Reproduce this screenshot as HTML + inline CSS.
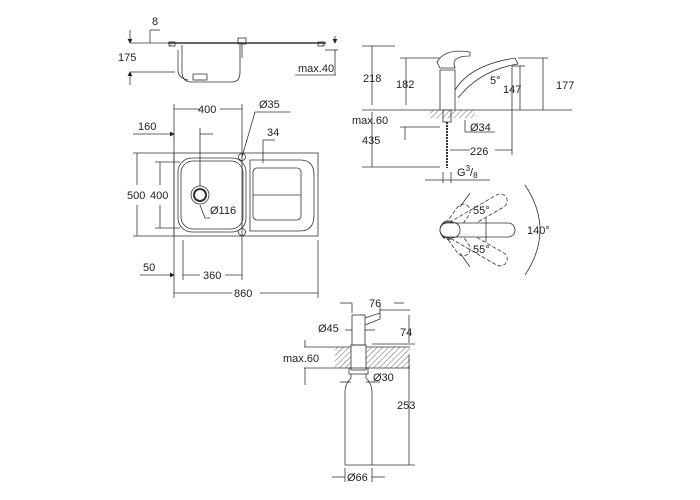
<!DOCTYPE html>
<html><head><meta charset="utf-8"><style>
html,body{margin:0;padding:0;background:#fff}
svg{display:block}
text{font-family:"Liberation Sans",sans-serif;font-size:11px;fill:#222}
</style></head><body>
<svg width="700" height="500" viewBox="0 0 700 500" xmlns="http://www.w3.org/2000/svg">
<defs>
<pattern id="h" width="4" height="4" patternUnits="userSpaceOnUse" patternTransform="rotate(45)">
<line x1="0" y1="0" x2="0" y2="4" stroke="#444" stroke-width="0.8"/></pattern>
<marker id="a" markerWidth="6" markerHeight="6" refX="5" refY="3" orient="auto"><path d="M0,0 L6,3 L0,6z" fill="#222"/></marker>
</defs>
<g stroke="#333" stroke-width="0.8" fill="none">
<!-- side view -->
<line x1="168" y1="43" x2="326" y2="43" stroke-width="1.5"/>
<rect x="169" y="42" width="6" height="4" fill="url(#h)"/>
<rect x="318" y="42" width="6" height="4" fill="url(#h)"/>
<path d="M182,45 L182,72 Q182,82 192,82 L232,82 Q240,82 240,72 L240,45"/>
<path d="M178,50 L178,70 Q178,78 188,80"/>
<rect x="193" y="74" width="14" height="6"/>
<rect x="238" y="38" width="8" height="6"/>
<line x1="242" y1="44" x2="242" y2="58"/>
<line x1="130" y1="43" x2="168" y2="43"/>
<line x1="130" y1="72" x2="175" y2="72"/>
<line x1="130" y1="30" x2="130" y2="43" marker-end="url(#a)"/>
<line x1="130" y1="85" x2="130" y2="72" marker-end="url(#a)"/>
<line x1="150" y1="30" x2="150" y2="43"/><line x1="150" y1="30" x2="160" y2="30"/>
<line x1="335" y1="36" x2="335" y2="43" marker-end="url(#a)"/>
<line x1="335" y1="75" x2="335" y2="50" />
<line x1="295" y1="75" x2="336" y2="75"/>
<line x1="325" y1="50" x2="338" y2="50"/>
<!-- top view -->
<rect x="174" y="153" width="144" height="83"/>
<rect x="178" y="158" width="68" height="74" rx="14"/>
<rect x="181" y="161" width="62" height="68" rx="12"/>
<path d="M250,160 L300,160 Q314,160 314,175 L314,215 Q314,231 300,231 L250,231 Z"/>
<rect x="253" y="168" width="48" height="52" rx="4"/>
<line x1="253" y1="195" x2="301" y2="195"/>
<circle cx="200" cy="195" r="9"/><circle cx="200" cy="195" r="6" stroke-width="2"/>
<circle cx="242" cy="157" r="3.5"/><circle cx="242" cy="232" r="3.5"/>
<!-- dims top -->
<line x1="174" y1="104" x2="174" y2="298"/>
<line x1="242" y1="104" x2="242" y2="280"/>
<line x1="318" y1="240" x2="318" y2="298"/>
<line x1="174" y1="109" x2="200" y2="109"/><line x1="220" y1="109" x2="242" y2="109"/>
<line x1="133" y1="134" x2="174" y2="134" marker-end="url(#a)"/>
<line x1="200" y1="128" x2="200" y2="186"/><line x1="200" y1="134" x2="213" y2="134"/>
<line x1="133" y1="153" x2="174" y2="153"/><line x1="133" y1="236" x2="174" y2="236"/>
<line x1="137" y1="153" x2="137" y2="185"/><line x1="137" y1="205" x2="137" y2="236"/>
<line x1="155" y1="162" x2="180" y2="162"/><line x1="155" y1="228" x2="180" y2="228"/>
<line x1="160" y1="162" x2="160" y2="185"/><line x1="160" y1="205" x2="160" y2="228"/>
<line x1="140" y1="275" x2="174" y2="275" marker-end="url(#a)"/>
<line x1="183" y1="275" x2="200" y2="275"/><line x1="225" y1="275" x2="242" y2="275"/>
<line x1="183" y1="240" x2="183" y2="280"/>
<line x1="174" y1="293" x2="232" y2="293"/><line x1="260" y1="293" x2="318" y2="293"/>
<line x1="242" y1="157" x2="255" y2="112"/><line x1="255" y1="112" x2="290" y2="112"/>
<line x1="263" y1="140" x2="263" y2="163"/><line x1="263" y1="140" x2="275" y2="140"/>
<path d="M200,205 L205,218 L210,218"/>
<!-- faucet -->
<line x1="362" y1="110" x2="572" y2="110"/>
<rect x="430" y="110" width="45" height="8" fill="url(#h)" stroke="none"/>
<path d="M440,110 L440,70 L455,70 L455,110"/>
<path d="M437,62 Q445,48 470,52 L470,56 Q450,56 455,68 L440,68 Z"/>
<path d="M455,90 Q470,65 515,58 L518,64 Q480,70 458,98"/>
<rect x="443" y="110" width="8" height="12"/>
<line x1="447" y1="122" x2="447" y2="168" stroke-width="2" stroke-dasharray="2,1"/>
<line x1="362" y1="46" x2="395" y2="46"/><line x1="400" y1="58" x2="440" y2="58"/>
<line x1="372" y1="46" x2="372" y2="105"/><line x1="406" y1="58" x2="406" y2="105"/>
<line x1="372" y1="112" x2="372" y2="167"/><line x1="362" y1="167" x2="440" y2="167"/>
<line x1="518" y1="58" x2="548" y2="58"/><line x1="512" y1="66" x2="525" y2="66"/>
<line x1="543" y1="58" x2="543" y2="110"/><line x1="520" y1="66" x2="520" y2="110"/>
<line x1="512" y1="66" x2="512" y2="155"/>
<line x1="450" y1="150" x2="470" y2="150"/><line x1="495" y1="150" x2="512" y2="150"/>
<line x1="405" y1="127" x2="405" y2="140"/><line x1="400" y1="127" x2="440" y2="127"/>
<line x1="465" y1="120" x2="465" y2="132"/><line x1="465" y1="132" x2="495" y2="132"/>
<line x1="425" y1="180" x2="490" y2="180"/>
<line x1="443" y1="172" x2="443" y2="183"/><line x1="451" y1="172" x2="451" y2="183"/>
<!-- handle -->
<g stroke-dasharray="4,2">
<rect x="440" y="223" width="75" height="14" rx="7" transform="rotate(-30 450 230)"/>
<rect x="440" y="223" width="75" height="14" rx="7" transform="rotate(30 450 230)"/>
<rect x="440" y="223" width="40" height="14" rx="7" transform="rotate(-55 450 230)"/>
<rect x="440" y="223" width="40" height="14" rx="7" transform="rotate(55 450 230)"/>
</g>
<rect x="440" y="223" width="75" height="14" rx="7" fill="#fff"/>
<path d="M440,230 Q440,222 450,222 Q460,222 460,230 Q460,238 450,238 Q440,238 440,230"/>
<path d="M525,185 Q555,230 525,275"/>
<line x1="486" y1="218" x2="486" y2="242"/>
<line x1="470" y1="193" x2="460" y2="207"/><line x1="470" y1="267" x2="460" y2="253"/>
<!-- dispenser -->
<rect x="335" y="347" width="75" height="21" fill="url(#h)" stroke="none"/>
<line x1="335" y1="347" x2="410" y2="347"/><line x1="335" y1="368" x2="410" y2="368"/>
<rect x="351" y="345" width="15" height="25" fill="#fff"/>
<rect x="352" y="315" width="13" height="30"/>
<path d="M365,318 L380,313 L380,319 L365,325"/>
<rect x="349" y="368" width="19" height="6"/>
<path d="M351,374 L351,378 Q345,384 345,392 L345,465 L372,465 L372,392 Q372,384 366,378 L366,374"/>
<line x1="352" y1="303" x2="352" y2="313"/><line x1="380" y1="303" x2="380" y2="313"/>
<line x1="340" y1="303" x2="352" y2="303"/><line x1="394" y1="303" x2="404" y2="303"/>
<line x1="380" y1="310" x2="410" y2="310"/><line x1="372" y1="344" x2="415" y2="344"/>
<line x1="409" y1="315" x2="409" y2="343"/>
<line x1="409" y1="355" x2="409" y2="465"/><line x1="372" y1="465" x2="415" y2="465"/>
<line x1="304" y1="347" x2="335" y2="347"/><line x1="304" y1="368" x2="335" y2="368"/>
<line x1="305" y1="340" x2="305" y2="347"/><line x1="305" y1="368" x2="305" y2="385"/>
<line x1="345" y1="330" x2="352" y2="330"/><line x1="365" y1="330" x2="375" y2="330"/>
<line x1="340" y1="382" x2="351" y2="382"/><line x1="366" y1="382" x2="380" y2="382"/>
<line x1="345" y1="468" x2="345" y2="482"/><line x1="372" y1="468" x2="372" y2="482"/>
<line x1="332" y1="477" x2="345" y2="477"/><line x1="372" y1="477" x2="385" y2="477"/>
</g>
<text x="152" y="25">8</text>
<text x="118" y="61">175</text>
<text x="298" y="72">max.40</text>
<text x="198" y="113">400</text>
<text x="259" y="108">Ø35</text>
<text x="138" y="130">160</text>
<text x="267" y="136">34</text>
<text x="127" y="199">500</text>
<text x="150" y="199">400</text>
<text x="210" y="214">Ø116</text>
<text x="143" y="271">50</text>
<text x="203" y="279">360</text>
<text x="234" y="297">860</text>
<text x="363" y="82">218</text>
<text x="396" y="88">182</text>
<text x="490" y="84">5°</text>
<text x="503" y="93">147</text>
<text x="556" y="89">177</text>
<text x="352" y="124">max.60</text>
<text x="470" y="131">Ø34</text>
<text x="362" y="144">435</text>
<text x="470" y="155">226</text>
<text x="457" y="176">G<tspan font-size="8" dy="-5">3</tspan><tspan dy="5">/</tspan><tspan font-size="8" dy="2">8</tspan></text>
<text x="473" y="214">55°</text>
<text x="473" y="253">55°</text>
<text x="527" y="234">140°</text>
<text x="369" y="307">76</text>
<text x="400" y="336">74</text>
<text x="318" y="332">Ø45</text>
<text x="283" y="362">max.60</text>
<text x="373" y="381">Ø30</text>
<text x="397" y="409">253</text>
<text x="347" y="481">Ø66</text>
</svg>
</body></html>
